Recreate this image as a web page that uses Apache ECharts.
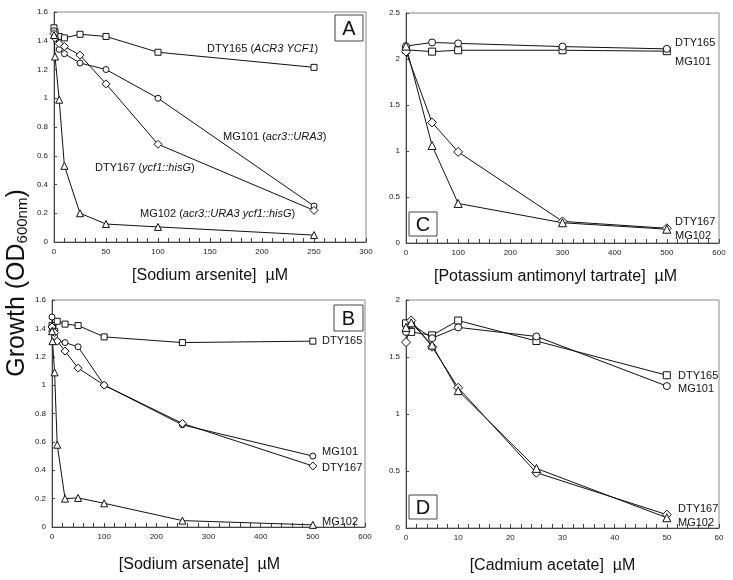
<!DOCTYPE html>
<html>
<head>
<meta charset="utf-8">
<script src="https://cdn.jsdelivr.net/npm/echarts@6/dist/echarts.min.js"></script>
<style>html,body{margin:0;padding:0;background:#fff}#c{width:733px;height:580px}</style>
</head>
<body>
<div id="c"></div>
<script>
// ---- Panel A: sodium arsenite ----
const xA = [0, 1, 5, 10, 25, 50, 100, 250];
const aDTY165 = [1.49, 1.46, 1.43, 1.42, 1.445, 1.43, 1.32, 1.215];
const aMG101  = [1.47, 1.44, 1.34, 1.31, 1.245, 1.20, 1.00, 0.25];
const aDTY167 = [1.45, 1.42, 1.38, 1.36, 1.30, 1.10, 0.68, 0.22];
const aMG102  = [1.44, 1.29, 0.99, 0.53, 0.20, 0.125, 0.105, 0.048];
// ---- Panel B: sodium arsenate ----
const xB = [0, 1, 5, 10, 25, 50, 100, 250, 500];
const bDTY165 = [1.42, 1.40, 1.38, 1.45, 1.43, 1.42, 1.34, 1.30, 1.31];
const bMG101  = [1.48, 1.40, 1.34, 1.31, 1.30, 1.27, 1.00, 0.72, 0.50];
const bDTY167 = [1.41, 1.38, 1.37, 1.31, 1.24, 1.12, 1.00, 0.73, 0.43];
const bMG102  = [1.38, 1.31, 1.09, 0.58, 0.20, 0.205, 0.167, 0.045, 0.015];
// ---- Panel C: potassium antimonyl tartrate ----
const xC = [0, 50, 100, 300, 500];
const cDTY165 = [2.10, 2.08, 2.095, 2.095, 2.085];
const cMG101  = [2.14, 2.18, 2.17, 2.135, 2.11];
const cDTY167 = [2.08, 1.31, 0.99, 0.235, 0.16];
const cMG102  = [2.14, 1.06, 0.43, 0.22, 0.15];
// ---- Panel D: cadmium acetate ----
const xD = [0, 1, 5, 10, 25, 50];
const dDTY165 = [1.795, 1.72, 1.69, 1.82, 1.64, 1.34];
const dMG101  = [1.72, 1.79, 1.665, 1.76, 1.68, 1.245];
const dDTY167 = [1.63, 1.82, 1.59, 1.23, 0.485, 0.117];
const dMG102  = [1.76, 1.80, 1.605, 1.205, 0.523, 0.09];

const panelLetters = ['A', 'B', 'C', 'D'];
const xTitles = ['[Sodium arsenite]  µM', '[Sodium arsenate]  µM', '[Potassium antimonyl tartrate]  µM', '[Cadmium acetate]  µM'];

const FONT = 'Arial, "Liberation Sans", sans-serif';
const TICKFONT = '"Liberation Sans Narrow", "Arial Narrow", Arial, sans-serif';

function pairs(xs, ys) { return xs.map((x, i) => [x, ys[i]]); }

const chart = echarts.init(document.getElementById('c'), null, {renderer: 'canvas'});

const grids = [
  {left: 54, top: 12, width: 312, height: 230},
  {left: 52, top: 300, width: 313, height: 227},
  {left: 406, top: 13, width: 313, height: 230},
  {left: 406, top: 300, width: 313, height: 228}
];
const xSpecs = [
  {max: 300, interval: 50, gap: 26, pad: [0, 0, 0, 0]},
  {max: 600, interval: 100, gap: 30, pad: [0, 18, 0, 0]},
  {max: 600, interval: 100, gap: 26, pad: [0, 14, 0, 0]},
  {max: 60, interval: 10, gap: 30, pad: [0, 20, 0, 0]}
];
const ySpecs = [
  {max: 1.6, interval: 0.2},
  {max: 1.6, interval: 0.2},
  {max: 2.5, interval: 0.5},
  {max: 2, interval: 0.5}
];

const xAxes = xSpecs.map((s, i) => ({
  type: 'value', gridIndex: i, min: 0, max: s.max, interval: s.interval,
  name: xTitles[i], nameLocation: 'middle', nameGap: s.gap,
  nameTextStyle: {fontFamily: FONT, fontSize: 16, color: '#111', padding: s.pad},
  axisLine: {show: true, lineStyle: {color: '#444', width: 1}},
  axisTick: {show: true, inside: true, length: 4, lineStyle: {color: '#444'}},
  minorTick: {show: true, splitNumber: 5, length: 4, lineStyle: {color: '#444'}},
  axisLabel: {fontFamily: TICKFONT, fontSize: 8, color: '#222', margin: 6},
  splitLine: {show: false}
}));
const yAxes = ySpecs.map((s, i) => ({
  type: 'value', gridIndex: i, min: 0, max: s.max, interval: s.interval,
  axisLine: {show: true, lineStyle: {color: '#444', width: 1}},
  axisTick: {show: true, inside: true, length: 3, lineStyle: {color: '#444'}},
  axisLabel: {fontFamily: TICKFONT, fontSize: 8, color: '#222', margin: 6},
  splitLine: {show: false}
}));

const panelData = [
  {x: xA, s: [aDTY165, aMG101, aDTY167, aMG102], size: 6},
  {x: xB, s: [bDTY165, bMG101, bDTY167, bMG102], size: 6},
  {x: xC, s: [cDTY165, cMG101, cDTY167, cMG102], size: 7},
  {x: xD, s: [dDTY165, dMG101, dDTY167, dMG102], size: 7}
];
const names = ['DTY165', 'MG101', 'DTY167', 'MG102'];
const symbols = ['rect', 'circle', 'diamond', 'triangle'];
const series = [];
panelData.forEach((p, gi) => {
  p.s.forEach((ys, k) => {
    series.push({
      type: 'line', name: names[k], xAxisIndex: gi, yAxisIndex: gi,
      data: pairs(p.x, ys), symbol: symbols[k],
      symbolSize: symbols[k] === 'diamond' ? p.size + 2 : (symbols[k] === 'triangle' ? p.size + 1 : p.size),
      showAllSymbol: true,
      lineStyle: {color: '#111', width: 1},
      itemStyle: {color: '#fff', borderColor: '#111', borderWidth: 1},
      emphasis: {disabled: true}
    });
  });
});

const rich = {
  n: {fontFamily: FONT, fontSize: 11, fill: '#111', color: '#111'},
  i: {fontFamily: FONT, fontSize: 11, fontStyle: 'italic', fill: '#111', color: '#111'}
};
function lbl(x, y, text) {
  return {type: 'text', x: x, y: y, silent: true,
    style: {text: text, rich: rich, font: '11px ' + FONT, fill: '#111', verticalAlign: 'middle', align: 'left'}};
}
function box(x, y, w, h, letter) {
  return [
    {type: 'rect', shape: {x: x, y: y, width: w, height: h}, silent: true,
      style: {fill: '#fff', stroke: '#444', lineWidth: 1}},
    {type: 'text', x: x + w / 2, y: y + h / 2 + 1, silent: true,
      style: {text: letter, font: '20px ' + FONT, fill: '#111', align: 'center', verticalAlign: 'middle'}}
  ];
}

const graphic = [
  {type: 'text', x: 15, y: 283, rotation: Math.PI / 2, silent: true,
    style: {text: '{a|Growth (OD}{b|600nm}{a|)}', align: 'center', verticalAlign: 'middle',
      rich: {
        a: {fontFamily: FONT, fontSize: 25, fill: '#111', color: '#111', verticalAlign: 'bottom', lineHeight: 30},
        b: {fontFamily: FONT, fontSize: 15, fill: '#111', color: '#111', verticalAlign: 'bottom', lineHeight: 22}
      }}},
  lbl(207, 49, '{n|DTY165 (}{i|ACR3 YCF1}{n|)}'),
  lbl(223, 137, '{n|MG101 (}{i|acr3::URA3}{n|)}'),
  lbl(95, 168, '{n|DTY167 (}{i|ycf1::hisG}{n|)}'),
  lbl(140, 214, '{n|MG102 (}{i|acr3::URA3 ycf1::hisG}{n|)}'),
  lbl(675, 43, '{n|DTY165}'),
  lbl(675, 62, '{n|MG101}'),
  lbl(675, 222, '{n|DTY167}'),
  lbl(675, 236, '{n|MG102}'),
  lbl(322, 341, '{n|DTY165}'),
  lbl(322, 452, '{n|MG101}'),
  lbl(322, 468, '{n|DTY167}'),
  lbl(322, 522, '{n|MG102}'),
  lbl(678, 376, '{n|DTY165}'),
  lbl(678, 389, '{n|MG101}'),
  lbl(678, 509, '{n|DTY167}'),
  lbl(678, 523, '{n|MG102}')
].concat(box(335, 15, 28, 26, panelLetters[0]))
 .concat(box(334, 305, 29, 26, panelLetters[1]))
 .concat(box(409, 212, 28, 24, panelLetters[2]))
 .concat(box(409, 495, 28, 24, panelLetters[3]));

chart.setOption({
  animation: false,
  backgroundColor: '#fff',
  grid: grids.map(g => Object.assign({show: true, borderColor: '#888', borderWidth: 1, backgroundColor: 'transparent'}, g)),
  xAxis: xAxes,
  yAxis: yAxes,
  series: series,
  graphic: graphic
});
</script>
</body>
</html>
